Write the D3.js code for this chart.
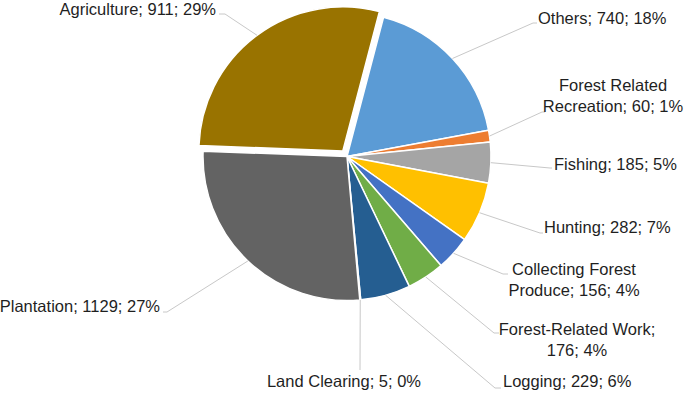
<!DOCTYPE html>
<html>
<head>
<meta charset="utf-8">
<script src="https://cdn.jsdelivr.net/npm/d3@7"></script>
<style>
  html, body { margin: 0; padding: 0; background: #fff; }
  svg { display: block; }
  .lbl { font-family: "Liberation Sans", Arial, sans-serif; font-size: 16.5px; fill: #1f1f1f; }
  .leader { fill: none; stroke: #c8c8c8; stroke-width: 1; }
</style>
</head>
<body>
<div id="chart"></div>
<script>
// categories in drawing order (clockwise from the top)
const categories = ["Others", "Forest Related Recreation", "Fishing", "Hunting",
  "Collecting Forest Produce", "Forest-Related Work", "Logging", "Land Clearing",
  "Plantation", "Agriculture"];
// counts and percentages as printed in the labels
const counts = [740, 60, 185, 282, 156, 176, 229, 5, 1129, 911];
const percents = [18, 1, 5, 7, 4, 4, 6, 0, 27, 29];
const shares = [18, 1.3, 4.6, 6.8, 3.9, 4.2, 5.6, 0.1, 27, 28.5];
const colors = ["#5B9BD5", "#ED7D31", "#A5A5A5", "#FFC000", "#4472C4", "#70AD47",
  "#255E91", "#9E480E", "#636363", "#997300"];

// label placement: text lines, anchor, position and leader elbow / end
const labelLayout = [
  { lines: ["Others; 740; 18%"], anchor: "start", x: 538, y: 24, elbow: [533, 23], end: [537, 23] },
  { lines: ["Forest Related", "Recreation; 60; 1%"], anchor: "middle", x: 613, y: 91, elbow: [542, 112], end: [545, 112] },
  { lines: ["Fishing; 185; 5%"], anchor: "start", x: 554, y: 170, elbow: [550, 168], end: [552, 168] },
  { lines: ["Hunting; 282; 7%"], anchor: "start", x: 544, y: 233, elbow: [540, 233], end: [543, 233] },
  { lines: ["Collecting Forest", "Produce; 156; 4%"], anchor: "middle", x: 574, y: 275, elbow: [503, 274], end: [508, 274] },
  { lines: ["Forest-Related Work;", "176; 4%"], anchor: "middle", x: 577, y: 335, elbow: [494, 333], end: [499, 333] },
  { lines: ["Logging; 229; 6%"], anchor: "start", x: 503, y: 387, elbow: [495, 388], end: [501, 388] },
  { lines: ["Land Clearing; 5; 0%"], anchor: "middle", x: 344, y: 387, elbow: [360, 370], end: [360, 370] },
  { lines: ["Plantation; 1129; 27%"], anchor: "end", x: 160, y: 312, elbow: [167, 312], end: [163, 312] },
  { lines: ["Agriculture; 911; 29%"], anchor: "end", x: 216, y: 15, elbow: [225, 14], end: [219, 14] }
];

const width = 685, height = 393;
const cx = 347, cy = 156.5, radius = 144;
const explodeIdx = 9, explodeDist = 7;
const startAngle = 14.7 * Math.PI / 180;

const svg = d3.select("#chart").append("svg")
  .attr("width", width)
  .attr("height", height);

const pie = d3.pie()
  .sort(null)
  .value(function(d) { return d; })
  .startAngle(startAngle)
  .endAngle(startAngle + 2 * Math.PI);

const arcs = pie(shares);
const arc = d3.arc().innerRadius(0).outerRadius(radius);

function offsetOf(i, d) {
  if (i !== explodeIdx) return [0, 0];
  const a = (d.startAngle + d.endAngle) / 2;
  return [Math.sin(a) * explodeDist, -Math.cos(a) * explodeDist];
}

const g = svg.append("g")
  .attr("transform", "translate(" + cx + "," + cy + ")");

g.selectAll("path.slice")
  .data(arcs)
  .enter().append("path")
  .attr("class", "slice")
  .attr("d", arc)
  .attr("transform", function(d, i) {
    const o = offsetOf(i, d);
    return "translate(" + o[0] + "," + o[1] + ")";
  })
  .attr("fill", function(d, i) { return colors[i]; })
  .attr("stroke", "#fff")
  .attr("stroke-width", 1.5)
  .attr("stroke-linejoin", "round");

// leader lines: from the slice edge at mid angle to the label
svg.selectAll("path.leader")
  .data(arcs)
  .enter().append("path")
  .attr("class", "leader")
  .attr("d", function(d, i) {
    const a = (d.startAngle + d.endAngle) / 2;
    const o = offsetOf(i, d);
    const sx = cx + o[0] + Math.sin(a) * radius,
      sy = cy + o[1] - Math.cos(a) * radius;
    const L = labelLayout[i];
    return d3.line()([[sx, sy], L.elbow, L.end]);
  });

const labels = svg.selectAll("text.lbl")
  .data(arcs)
  .enter().append("text")
  .attr("class", "lbl")
  .attr("text-anchor", function(d, i) { return labelLayout[i].anchor; });

labels.each(function(d, i) {
  const L = labelLayout[i];
  d3.select(this).selectAll("tspan")
    .data(L.lines)
    .enter().append("tspan")
    .attr("x", L.x)
    .attr("y", function(t, k) { return L.y + k * 21; })
    .text(function(t) { return t; });
});
</script>
</body>
</html>
